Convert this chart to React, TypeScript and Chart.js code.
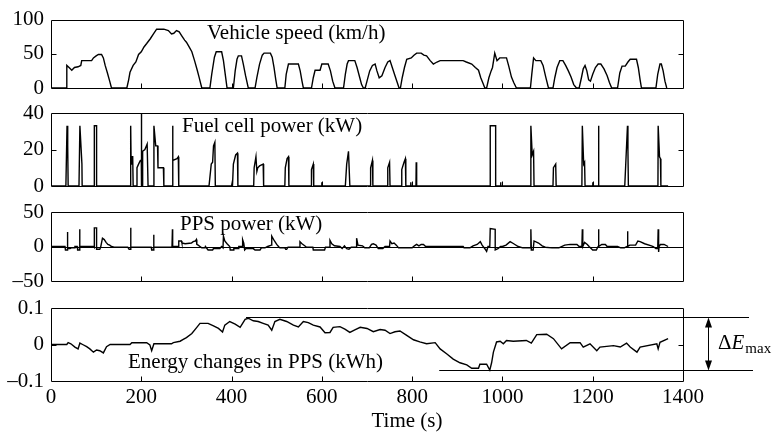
import React, { useEffect, useRef } from "react";
import { Chart, registerables } from "chart.js";
Chart.register(...registerables);

const W = 774;
const H = 440;
const FONT = '"Liberation Serif", "Times New Roman", serif';
const FS = 21;

// ---- axis ticks ----
const timeTicks = [0, 200, 400, 600, 800, 1000, 1200, 1400];
const speedTicks = [0, 50, 100];
const fcTicks = [0, 20, 40];
const ppsTicks = [-50, 0, 50];
const energyTicks = [-0.1, 0, 0.1];

// ---- data: [time (s), value] ----
const speedData: [number, number][] = [
  [0, 0], [34, 0], [35, 33], [40, 30], [46, 26], [52, 30], [60, 31], [66, 33], [68, 40], [90, 40], [94, 44],
  [100, 47], [105, 49], [112, 49], [116, 44], [120, 33], [125, 22], [130, 10], [134, 0],
  [168, 0], [172, 12], [175, 23], [182, 33], [188, 38], [194, 49], [200, 53], [206, 60], [212, 65], [220, 72],
  [227, 79], [234, 86], [250, 86], [260, 84], [267, 79], [272, 80], [278, 84], [284, 82], [290, 76], [296, 70],
  [300, 67], [306, 60], [312, 53], [318, 40], [324, 26], [328, 16], [334, 0],
  [352, 0], [356, 20], [362, 45], [366, 53], [378, 53], [382, 40], [386, 20], [390, 0],
  [404, 0], [408, 25], [412, 42], [415, 47], [422, 47], [426, 35], [431, 18], [437, 0],
  [452, 0], [456, 15], [462, 35], [468, 48], [472, 51], [486, 51], [490, 45], [494, 30], [498, 12], [501, 0],
  [518, 0], [521, 20], [526, 35], [548, 35], [552, 25], [556, 10], [559, 0],
  [577, 0], [581, 15], [585, 26], [596, 26], [600, 35], [614, 35], [619, 25], [624, 10], [629, 0],
  [648, 0], [652, 20], [656, 35], [659, 40], [673, 40], [678, 30], [684, 15], [688, 5], [692, 0],
  [696, 0], [700, 10], [706, 25], [712, 33], [718, 35], [722, 25], [727, 15], [733, 18], [740, 30], [746, 38],
  [751, 40], [756, 30], [762, 18], [767, 8], [771, 0],
  [774, 0], [778, 15], [783, 30], [788, 42], [798, 44], [804, 48], [810, 51], [820, 51], [826, 48], [832, 47],
  [840, 40], [847, 35], [855, 38], [862, 40], [913, 40], [920, 38], [932, 35], [940, 30], [947, 26], [952, 15],
  [958, 5], [961, 0],
  [965, 0], [970, 15], [975, 25], [978, 30], [983, 51], [988, 40], [994, 44], [1002, 44], [1009, 44], [1014, 32],
  [1020, 16], [1025, 8], [1031, 0],
  [1062, 0], [1065, 20], [1069, 44], [1074, 40], [1085, 40], [1090, 33], [1096, 16], [1102, 0],
  [1112, 0], [1116, 15], [1121, 30], [1127, 40], [1134, 40], [1140, 33], [1146, 25], [1152, 16], [1158, 5], [1164, 0],
  [1170, 0], [1175, 15], [1179, 28], [1183, 33], [1187, 25], [1191, 12], [1195, 10],
  [1200, 20], [1206, 30], [1212, 35], [1218, 35], [1225, 28], [1232, 18], [1237, 8], [1242, 0],
  [1255, 0], [1260, 22], [1265, 32], [1272, 32], [1278, 38], [1283, 42], [1297, 42], [1301, 30], [1305, 12], [1308, 0],
  [1340, 0], [1344, 20], [1349, 35], [1352, 35], [1356, 25], [1360, 10], [1364, 0],
];

const fuelCellData: [number, number][] = [
  [0, 0], [33, 0], [35.5, 33], [36.5, 17], [37.5, 22], [38, 0],
  [62, 0], [64, 33], [68.5, 12], [69, 0],
  [96, 0], [96, 33], [101, 33], [101, 0],
  [175, 0], [176.5, 33], [177.5, 12], [179, 16], [181, 16], [182, 0],
  [190, 0], [190.5, 10], [194, 12], [198, 14], [200, 14], [200, 45], [201, 0], [202, 0], [203, 19], [208, 20],
  [213, 23], [215, 0],
  [227.5, 0], [228, 33], [232, 22], [236, 22], [237, 10], [249, 10], [250, 0],
  [269, 0], [269.5, 33], [270, 14], [279, 15], [282, 16], [283, 0],
  [350, 0], [355, 12], [358, 13], [360, 22], [363, 24], [364, 0],
  [400, 0], [401.5, 2], [402, 0], [404, 12], [409, 17], [413, 18], [414, 0],
  [449, 0], [450, 10], [454, 16], [456, 8], [458, 10], [462, 11], [470, 12], [471, 0],
  [518, 0], [519, 10], [523, 15], [526, 16], [527, 0],
  [576, 0], [577, 9], [581, 12], [582, 0],
  [599, 0], [600, 2], [601, 0],
  [652, 0], [655, 12], [659, 19], [662, 0],
  [707, 0], [708, 10], [712, 14], [713, 0],
  [745, 0], [746, 10], [750, 13], [751, 0],
  [776, 0], [777, 9], [782, 13], [785, 15], [786, 0],
  [796.5, 0], [797, 2], [797.5, 0],
  [808.5, 0], [809, 13], [810, 0],
  [973, 0], [973, 33], [985, 33], [985, 0],
  [995.5, 0], [996, 2], [996.5, 0],
  [1062, 0], [1063, 33], [1066, 17], [1069, 19], [1070, 0],
  [1112, 0], [1113, 10], [1118, 12], [1119, 0],
  [1176, 0], [1177, 33], [1180, 12], [1182, 13], [1183, 0],
  [1199.5, 0], [1200, 2], [1200.5, 0],
  [1212.5, 0], [1213, 33], [1213.5, 0],
  [1271, 0], [1277, 33], [1278, 20], [1279, 0],
  [1344.5, 0], [1345, 33], [1348, 16], [1350, 15], [1351, 0], [1367, 0],
];

const ppsData: [number, number][] = [
  [0, 0], [31, 0], [32, -5], [36, -5], [36.5, 21], [37, -3], [42, -3], [45, -2], [52, -2], [53, 0], [58, 0],
  [59, -5], [63, -5], [63.5, 25], [64, 0], [95, 0], [96, -1], [96, 27], [101, 27], [101, -4], [108, -4],
  [110, -1], [114, 12], [118, 10], [122, 6], [126, 3], [130, 2], [134, 0], [140, -1], [170, -1], [173, -4],
  [176, -4], [176.5, 27], [177, -1], [222, -1], [223, -5], [227, -5], [227.5, 17], [228, -1], [268, -1],
  [269, 25], [269.5, 0], [282, 0], [283, 8], [289, 8], [290, 5], [297, 4], [311, 5], [315, 7], [320, 8],
  [322, 10], [323, 3], [326, 2], [330, 0], [334, -2], [341, -2], [342, 0], [348, -5], [358, -5], [360, -3],
  [374, -3], [378, 0], [381, -2], [382, 15], [385, 8], [390, 4], [396, 0], [397, -5], [404, -5], [405, -3],
  [415, -3], [416, 0], [424, 0], [424.5, 10], [427, 5], [429, -5], [432, -3], [448, -3], [452, -5], [463, -5],
  [466, -2], [474, -2], [480, 0], [488, 2], [489, 15], [495, 8], [500, 3], [504, 0], [507, -2], [518, -2],
  [520, -4], [522, -4], [525, -1], [550, -1], [551.5, 7], [556, 4], [562, 1], [566, -1], [580, -1], [581, -5],
  [606, -5], [608, -1], [617, -1], [618, 9], [622, 4], [628, 1], [640, 0], [645, -3], [650, 1], [655, -3],
  [660, -4], [665, -1], [676, -1], [677, 12], [680, 2], [690, 1], [695, -2], [705, -2], [710, 3], [714, 4],
  [720, 2], [725, -3], [735, -3], [740, 0], [750, 0], [751, 8], [755, 4], [760, 5], [765, 2], [770, -2],
  [800, -2], [805, 1], [810, 3], [815, 1], [820, 3], [825, 3], [830, 0], [913, 0], [915, -2], [928, -2],
  [935, 1], [944, 3], [951, 7], [955, 2], [962, -4], [965, -7], [968, 0], [972, 0], [973, 26], [984, 25],
  [984, -5], [990, -3], [996, 0], [1000, 0], [1008, 2], [1017, 7], [1025, 4], [1035, 0], [1045, -2],
  [1062, -2], [1063, 25], [1064, -5], [1068, -5], [1070, 8], [1080, 5], [1088, 1], [1095, -1], [1110, -2],
  [1125, -2], [1138, 2], [1150, 3], [1165, 3], [1170, 0], [1176, 0], [1177, 25], [1178, 0], [1182, 6],
  [1188, 3], [1192, 0], [1200, -5], [1208, -5], [1212, 0], [1213, 25], [1213.5, 0], [1220, 3], [1228, 3],
  [1232, 0], [1255, 0], [1262, -2], [1270, -2], [1276, 0], [1277, 22], [1278, 0], [1282, 2], [1295, 2],
  [1300, 8], [1305, 7], [1315, 4], [1330, 1], [1334, 0], [1340, -3], [1344, -3], [1345, 25], [1346, -8],
  [1347, 0], [1350, 3], [1358, 3], [1367, 0],
];

const energyData: [number, number][] = [
  [0, 0], [35, 0], [38, 0.005], [44, 0.002], [53, -0.007], [60, -0.012], [64, 0.004], [70, 0], [79, -0.006],
  [86, -0.012], [94, -0.021], [101, -0.015], [108, -0.017], [116, -0.023], [123, -0.006], [131, 0], [175, 0],
  [179, 0.005], [212, 0.005], [219, -0.001], [223, -0.017], [228, 0.002], [267, 0.002], [271, 0.005],
  [286, 0.009], [293, 0.014], [300, 0.019], [312, 0.03], [323, 0.047], [330, 0.058], [348, 0.058],
  [360, 0.051], [371, 0.044], [380, 0.034], [385, 0.053], [396, 0.063], [408, 0.056], [419, 0.047],
  [430, 0.069], [437, 0.072], [448, 0.065], [459, 0.063], [470, 0.058], [481, 0.053], [489, 0.039],
  [496, 0.063], [507, 0.069], [522, 0.063], [537, 0.053], [548, 0.048], [559, 0.063], [570, 0.06],
  [581, 0.053], [596, 0.048], [607, 0.032], [618, 0.033], [625, 0.047], [640, 0.049], [651, 0.042],
  [662, 0.033], [673, 0.04], [685, 0.047], [700, 0.044], [714, 0.035], [729, 0.041], [740, 0.039],
  [751, 0.03], [762, 0.035], [773, 0.037], [788, 0.025], [803, 0.013], [817, 0.007], [832, 0.002],
  [851, 0.005], [862, -0.012], [877, -0.026], [891, -0.04], [906, -0.05], [921, -0.056], [932, -0.065],
  [947, -0.065], [950, -0.054], [965, -0.054], [972, -0.07], [976, -0.05], [980, -0.021], [987, 0.007],
  [995, 0.009], [1002, 0.002], [1009, 0.011], [1024, 0.009], [1053, 0.011], [1064, 0.004], [1076, 0.027],
  [1098, 0.028], [1113, 0.016], [1131, -0.012], [1150, 0.005], [1172, 0.005], [1179, -0.007], [1194, 0.002],
  [1209, -0.017], [1216, -0.007], [1246, -0.003], [1261, -0.007], [1275, 0.004], [1283, -0.007],
  [1298, -0.021], [1305, -0.007], [1342, 0.002], [1345, -0.012], [1349, 0.006], [1367, 0.016],
];

// Delta E_max reference levels and the times where the guide lines begin
const deltaE = { max: 0.075, min: -0.071, maxT: 432, minT: 860 };

const xLabel = "Time (s)";

type Panel = {
  key: string;
  top: number;
  bottom: number;
  data: [number, number][];
  ticks: number[];
  label: string;
  labelX: number;
  labelY: number;
  zeroLine?: boolean;
  last?: boolean;
};

const panels: Panel[] = [
  { key: "speed", top: 17, bottom: 88, data: speedData, ticks: speedTicks, label: "Vehicle speed (km/h)", labelX: 207, labelY: 39 },
  { key: "fc", top: 113, bottom: 186, data: fuelCellData, ticks: fcTicks, label: "Fuel cell power (kW)", labelX: 182, labelY: 132 },
  { key: "pps", top: 212, bottom: 281, data: ppsData, ticks: ppsTicks, label: "PPS power (kW)", labelX: 180, labelY: 230, zeroLine: true },
  { key: "energy", top: 308, bottom: 381, data: energyData, ticks: energyTicks, label: "Energy changes in PPS (kWh)", labelX: 128, labelY: 368, last: true },
];

const fmt = (v: number) => (v < 0 ? "\u2013" + String(Math.abs(v)) : String(v));

function makeDeco(p: Panel) {
  return {
    id: "deco_" + p.key,
    afterDraw(chart: any) {
      const { ctx, chartArea: a, scales } = chart;
      const xs = scales.x;
      const ys = scales.y;
      const L = Math.round(a.left) + 0.5;
      const R = Math.round(a.right) + 0.5;
      const T = Math.round(a.top) + 0.5;
      const B = Math.round(a.bottom) + 0.5;
      ctx.save();
      ctx.strokeStyle = "#000";
      ctx.lineWidth = 1;
      if (p.zeroLine) {
        const y0 = Math.round(ys.getPixelForValue(0)) + 0.5;
        ctx.beginPath();
        ctx.moveTo(L, y0);
        ctx.lineTo(R, y0);
        ctx.stroke();
      }
      ctx.beginPath();
      ctx.rect(L, T, R - L, B - T);
      ctx.stroke();
      // inward ticks
      ctx.beginPath();
      timeTicks.forEach((t) => {
        if (t <= xs.min || t >= xs.max) return;
        const x = Math.round(xs.getPixelForValue(t)) + 0.5;
        ctx.moveTo(x, B);
        ctx.lineTo(x, B - 5);
      });
      p.ticks.forEach((v) => {
        if (v <= ys.min || v >= ys.max) return;
        const y = Math.round(ys.getPixelForValue(v)) + 0.5;
        ctx.moveTo(L, y);
        ctx.lineTo(L + 5, y);
        ctx.moveTo(R, y);
        ctx.lineTo(R - 5, y);
      });
      ctx.stroke();
      // panel label
      ctx.fillStyle = "#000";
      ctx.font = `${FS}px ${FONT}`;
      ctx.textBaseline = "alphabetic";
      ctx.textAlign = "left";
      ctx.fillText(p.label, p.labelX, p.labelY);
      if (p.last) {
        // x axis title
        ctx.textAlign = "center";
        ctx.fillText(xLabel, 407, 427);
        // Delta E max guides
        const yTop = Math.round(ys.getPixelForValue(deltaE.max)) + 0.5;
        const yBot = Math.round(ys.getPixelForValue(deltaE.min)) + 0.5;
        ctx.beginPath();
        ctx.moveTo(xs.getPixelForValue(deltaE.maxT), yTop);
        ctx.lineTo(a.right + 66, yTop);
        ctx.moveTo(xs.getPixelForValue(deltaE.minT), yBot);
        ctx.lineTo(a.right + 70, yBot);
        const ax = Math.round(a.right + 25) + 0.5;
        ctx.moveTo(ax, yTop + 8);
        ctx.lineTo(ax, yBot - 8);
        ctx.stroke();
        ctx.beginPath();
        ctx.moveTo(ax, yTop);
        ctx.lineTo(ax - 3.5, yTop + 10);
        ctx.lineTo(ax + 3.5, yTop + 10);
        ctx.closePath();
        ctx.moveTo(ax, yBot);
        ctx.lineTo(ax - 3.5, yBot - 10);
        ctx.lineTo(ax + 3.5, yBot - 10);
        ctx.closePath();
        ctx.fill();
        ctx.textAlign = "left";
        ctx.font = `${FS}px ${FONT}`;
        const lx = a.right + 35;
        ctx.fillText("\u0394", lx, 349);
        const dw = ctx.measureText("\u0394").width;
        ctx.font = `italic ${FS}px ${FONT}`;
        ctx.fillText("E", lx + dw, 349);
        const ew = ctx.measureText("E").width;
        ctx.font = `15px ${FONT}`;
        ctx.fillText("max", lx + dw + ew + 1, 353);
      }
      ctx.restore();
    },
  };
}

function makeConfig(p: Panel): any {
  const tickFont = { family: FONT, size: FS };
  return {
    type: "line",
    data: {
      datasets: [
        {
          data: p.data.map(([x, y]) => ({ x, y })),
          borderColor: "#000",
          borderWidth: 1.4,
          pointRadius: 0,
          tension: 0,
          fill: false,
        },
      ],
    },
    options: {
      animation: false,
      responsive: false,
      maintainAspectRatio: false,
      events: [],
      layout: { padding: { left: 0, right: W - 683, top: p.top, bottom: p.last ? 0 : H - p.bottom } },
      plugins: { legend: { display: false }, tooltip: { enabled: false }, title: { display: false } },
      scales: {
        x: {
          type: "linear",
          min: 0,
          max: 1400,
          display: !!p.last,
          grid: { display: false, drawTicks: false },
          border: { display: false },
          afterBuildTicks: (s: any) => {
            s.ticks = timeTicks.map((v) => ({ value: v }));
          },
          afterFit: (s: any) => {
            s.height = p.last ? H - p.bottom : 0;
          },
          ticks: { font: tickFont, color: "#000", padding: 4, maxRotation: 0, autoSkip: false, callback: (v: number) => fmt(v) },
        },
        y: {
          type: "linear",
          min: p.ticks[0],
          max: p.ticks[p.ticks.length - 1],
          grid: { display: false, drawTicks: false },
          border: { display: false },
          afterBuildTicks: (s: any) => {
            s.ticks = p.ticks.map((v) => ({ value: v }));
          },
          afterFit: (s: any) => {
            s.width = 51;
          },
          ticks: { font: tickFont, color: "#000", padding: 7, callback: (v: number) => fmt(v) },
        },
      },
    },
    plugins: [makeDeco(p)],
  };
}

export default function App() {
  const r0 = useRef<HTMLCanvasElement>(null);
  const r1 = useRef<HTMLCanvasElement>(null);
  const r2 = useRef<HTMLCanvasElement>(null);
  const r3 = useRef<HTMLCanvasElement>(null);
  const refs = [r0, r1, r2, r3];
  useEffect(() => {
    const charts = panels.map((p, i) => new Chart(refs[i].current as HTMLCanvasElement, makeConfig(p)));
    return () => charts.forEach((c) => c.destroy());
  }, []);
  return (
    <div style={{ position: "fixed", left: 0, top: 0, width: W, height: H, background: "#fff" }}>
      {panels.map((p, i) => (
        <canvas key={p.key} ref={refs[i]} width={W} height={H} style={{ position: "absolute", left: 0, top: 0 }} />
      ))}
    </div>
  );
}
